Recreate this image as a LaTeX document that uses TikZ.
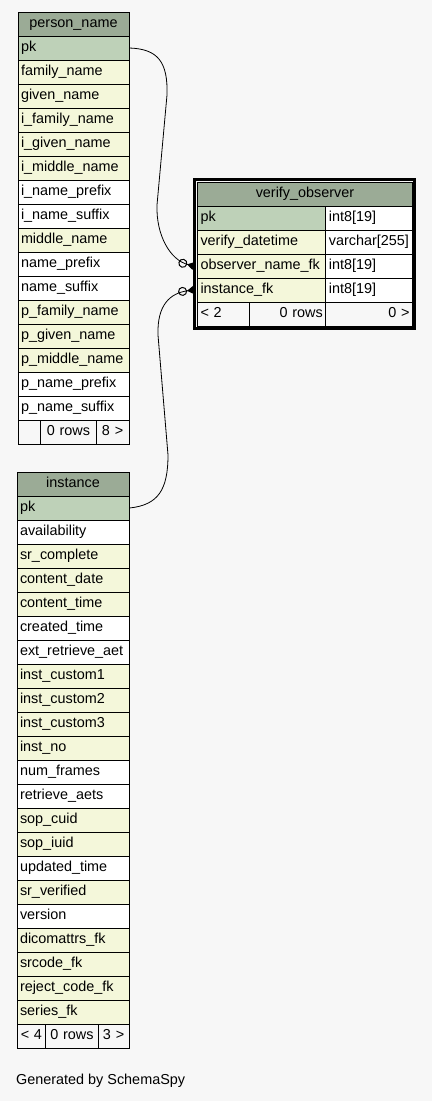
\documentclass[tikz,border=0pt]{standalone}
\usepackage{fontspec}
\setmainfont{Liberation Sans}
\usepackage{xcolor}
\usetikzlibrary{arrows.meta}
\definecolor{hdrgreen}{HTML}{9BAB96}
\definecolor{pkgreen}{HTML}{BED1B8}
\definecolor{idxyellow}{HTML}{F4F7DA}
\definecolor{bggray}{HTML}{F7F7F7}
\def\tf{\fontsize{14.4}{17}\selectfont}
\tikzstyle{cell} = [draw=black, line width=1pt, anchor=north west, minimum height=24pt, inner xsep=3pt, inner ysep=0pt, text height=10pt, text depth=4pt, align=left, font=\tf]
\tikzstyle{hdr} = [cell, fill=hdrgreen, align=center]
\tikzstyle{pkrow} = [cell, fill=pkgreen]
\tikzstyle{idx} = [cell, fill=idxyellow]
\tikzstyle{plain} = [cell, fill=white]
\tikzstyle{foot} = [cell, fill=bggray, align=center]
\tikzstyle{pncol} = [text width=105pt]
\tikzstyle{incol} = [text width=106pt]
\tikzstyle{vocol} = [text width=122pt]
\tikzstyle{vtcol} = [text width=81pt]
\tikzstyle{conn} = [line width=0.8pt, -{Circle[open, length=9pt, width=9pt, line width=1pt] Triangle[reversed, length=6.5pt, width=8pt]}]

\begin{document}
\begin{tikzpicture}[x=1pt,y=-1pt]
      \fill[bggray] (0,0) rectangle (432,1101);
      %%%%%%%%%%%%%%%%%%%%%%%%%%%%%%%%%%%%%%%
      % person_name
      \node (pn0) at (17.5,11.5) [hdr, pncol] {person\_name};
      \node (pn1) at (17.5,35.5) [pkrow, pncol] {pk};
      \node (pn2) at (17.5,59.5) [idx, pncol] {family\_name};
      \node (pn3) at (17.5,83.5) [idx, pncol] {given\_name};
      \node (pn4) at (17.5,107.5) [idx, pncol] {i\_family\_name};
      \node (pn5) at (17.5,131.5) [idx, pncol] {i\_given\_name};
      \node (pn6) at (17.5,155.5) [idx, pncol] {i\_middle\_name};
      \node (pn7) at (17.5,179.5) [plain, pncol] {i\_name\_prefix};
      \node (pn8) at (17.5,203.5) [plain, pncol] {i\_name\_suffix};
      \node (pn9) at (17.5,227.5) [idx, pncol] {middle\_name};
      \node (pn10) at (17.5,251.5) [plain, pncol] {name\_prefix};
      \node (pn11) at (17.5,275.5) [plain, pncol] {name\_suffix};
      \node (pn12) at (17.5,299.5) [idx, pncol] {p\_family\_name};
      \node (pn13) at (17.5,323.5) [idx, pncol] {p\_given\_name};
      \node (pn14) at (17.5,347.5) [idx, pncol] {p\_middle\_name};
      \node (pn15) at (17.5,371.5) [plain, pncol] {p\_name\_prefix};
      \node (pn16) at (17.5,395.5) [plain, pncol] {p\_name\_suffix};
      \node (pnf1) at (17.5,419.5) [foot, text width=16.8pt] {};
      \node (pnf2) at (40.3,419.5) [foot, text width=49.4pt] {0 rows};
      \node (pnf3) at (95.7,419.5) [foot, text width=26.8pt] {8 >};
      %%%%%%%%%%%%%%%%%%%%%%%%%%%%%%%%%%%%%%%
      % instance
      \node (in0) at (16.5,471.5) [hdr, incol] {instance};
      \node (in1) at (16.5,495.5) [pkrow, incol] {pk};
      \node (in2) at (16.5,519.5) [plain, incol] {availability};
      \node (in3) at (16.5,543.5) [idx, incol] {sr\_complete};
      \node (in4) at (16.5,567.5) [idx, incol] {content\_date};
      \node (in5) at (16.5,591.5) [idx, incol] {content\_time};
      \node (in6) at (16.5,615.5) [plain, incol] {created\_time};
      \node (in7) at (16.5,639.5) [plain, incol] {ext\_retrieve\_aet};
      \node (in8) at (16.5,663.5) [idx, incol] {inst\_custom1};
      \node (in9) at (16.5,687.5) [idx, incol] {inst\_custom2};
      \node (in10) at (16.5,711.5) [idx, incol] {inst\_custom3};
      \node (in11) at (16.5,735.5) [idx, incol] {inst\_no};
      \node (in12) at (16.5,759.5) [plain, incol] {num\_frames};
      \node (in13) at (16.5,783.5) [plain, incol] {retrieve\_aets};
      \node (in14) at (16.5,807.5) [idx, incol] {sop\_cuid};
      \node (in15) at (16.5,831.5) [idx, incol] {sop\_iuid};
      \node (in16) at (16.5,855.5) [plain, incol] {updated\_time};
      \node (in17) at (16.5,879.5) [idx, incol] {sr\_verified};
      \node (in18) at (16.5,903.5) [plain, incol] {version};
      \node (in19) at (16.5,927.5) [idx, incol] {dicomattrs\_fk};
      \node (in20) at (16.5,951.5) [idx, incol] {srcode\_fk};
      \node (in21) at (16.5,975.5) [idx, incol] {reject\_code\_fk};
      \node (in22) at (16.5,999.5) [idx, incol] {series\_fk};
      \node (inf1) at (16.5,1023.5) [foot, text width=22.8pt] {< 4};
      \node (inf2) at (45.3,1023.5) [foot, text width=46.4pt] {0 rows};
      \node (inf3) at (97.7,1023.5) [foot, text width=24.8pt] {3 >};
      %%%%%%%%%%%%%%%%%%%%%%%%%%%%%%%%%%%%%%%
      % verify_observer
      \node (vo0) at (197,181.5) [hdr, text width=209pt] {verify\_observer};
      \node (vo1) at (197,205.5) [pkrow, vocol] {pk};
      \node (vt1) at (325.3,205.5) [plain, vtcol] {int8[19]};
      \node (vo2) at (197,229.5) [idx, vocol] {verify\_datetime};
      \node (vt2) at (325.3,229.5) [plain, vtcol] {varchar[255]};
      \node (vo3) at (197,253.5) [idx, vocol] {observer\_name\_fk};
      \node (vt3) at (325.3,253.5) [plain, vtcol] {int8[19]};
      \node (vo4) at (197,277.5) [idx, vocol] {instance\_fk};
      \node (vt4) at (325.3,277.5) [plain, vtcol] {int8[19]};
      \node (vof1) at (197,301.5) [foot, align=left, text width=46.3pt] {< 2};
      \node (vof2) at (249.3,301.5) [foot, align=right, text width=70pt] {0 rows};
      \node (vof3) at (325.3,301.5) [foot, align=right, text width=80.7pt] {0 >};
      \draw[line width=3pt] (194.5,179) rectangle (414.5,328);
      %%%%%%%%%%%%%%%%%%%%%%%%%%%%%%%%%%%%%%%
      \draw[conn] (pn1.east) .. controls (158,49) and (168,62) .. (167,95) -- (157,205)
            .. controls (156,235) and (170,260) .. ([xshift=-3.5pt]vo3.west);
      \draw[conn] (in1.east) .. controls (158,505) and (168,490) .. (168,455) -- (158,335)
            .. controls (157,305) and (170,293) .. ([xshift=-3.5pt]vo4.west);
      \node (gen) at (16,1081) [anchor=west, inner sep=0pt, font=\tf] {Generated by SchemaSpy};
\end{tikzpicture}
\end{document}
